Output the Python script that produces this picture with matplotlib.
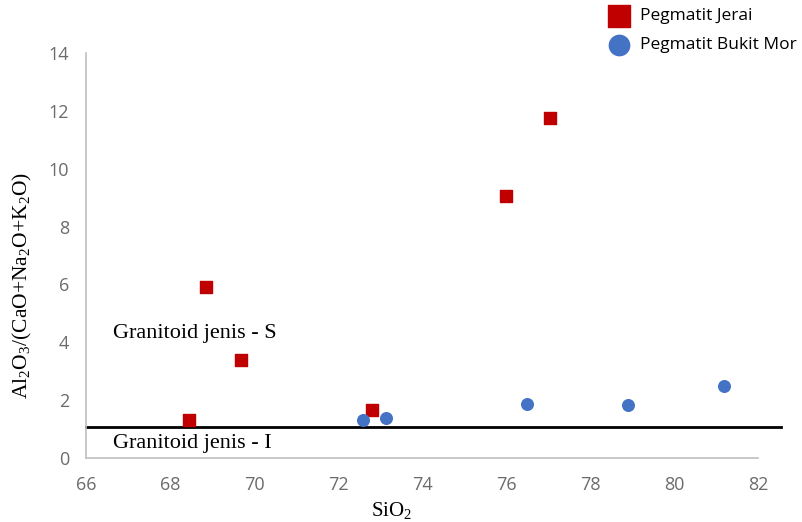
import matplotlib.pyplot as plt

# data
jerai_sio2 = [68.45, 68.85, 69.7, 72.8, 76.0, 77.05]
jerai_ratio = [1.3, 5.9, 3.4, 1.67, 9.05, 11.75]
mor_sio2 = [72.6, 73.15, 76.5, 78.9, 81.2]
mor_ratio = [1.3, 1.37, 1.88, 1.82, 2.5]
boundary = 1.08

xticks = [66, 68, 70, 72, 74, 76, 78, 80, 82]
yticks = [0, 2, 4, 6, 8, 10, 12, 14]

plt.rcParams['mathtext.fontset'] = 'custom'
plt.rcParams['mathtext.rm'] = 'Liberation Serif'

fig = plt.figure(figsize=(8.02, 5.22), dpi=100)
ax = fig.add_axes([0.1072, 0.1226, 0.838, 0.776])

ax.scatter(jerai_sio2, jerai_ratio, marker='s', s=75, color='#C00000',
           label='Pegmatit Jerai', zorder=3)
ax.scatter(mor_sio2, mor_ratio, marker='o', s=70, color='#4472C4',
           label='Pegmatit Bukit Mor', zorder=3)

# S / I type boundary, runs a bit past the axis end
ax.plot([66, 82.55], [boundary, boundary], color='black', lw=2, clip_on=False, zorder=2)

ax.set_xlim(66, 82)
ax.set_ylim(0, 14)
ax.set_xticks(xticks)
ax.set_yticks(yticks)

for side in ['top', 'right']:
    ax.spines[side].set_visible(False)
for side in ['left', 'bottom']:
    ax.spines[side].set_color('#bfbfbf')
    ax.spines[side].set_linewidth(1.2)

ax.tick_params(length=0, labelsize=13, labelcolor='#6b6b6b')
ax.tick_params(axis='x', pad=13)
ax.tick_params(axis='y', pad=12)
for lab in ax.get_xticklabels() + ax.get_yticklabels():
    lab.set_family('Open Sans')

ax.set_xlabel('SiO$_2$', family='Liberation Serif', fontsize=15)
ax.xaxis.set_label_coords(0.455, -0.105)
ax.set_ylabel('Al$_2$O$_3$/(CaO+Na$_2$O+K$_2$O)', family='Liberation Serif',
              fontsize=15.5)
ax.yaxis.set_label_coords(-0.078, 0.427)

ax.text(66.65, 4.3, 'Granitoid jenis - S', family='Liberation Serif', fontsize=16,
        va='center')
ax.text(66.65, 0.5, 'Granitoid jenis - I', family='Liberation Serif', fontsize=16,
        va='center')

leg = ax.legend(loc='upper left', bbox_to_anchor=(0.742, 0.998), bbox_transform=fig.transFigure,
                frameon=False, fontsize=12.5, handletextpad=0.2, labelspacing=0.75,
                markerscale=1.75, borderaxespad=0)
for t in leg.get_texts():
    t.set_family('Open Sans')

fig.savefig('out.png', dpi=100)
